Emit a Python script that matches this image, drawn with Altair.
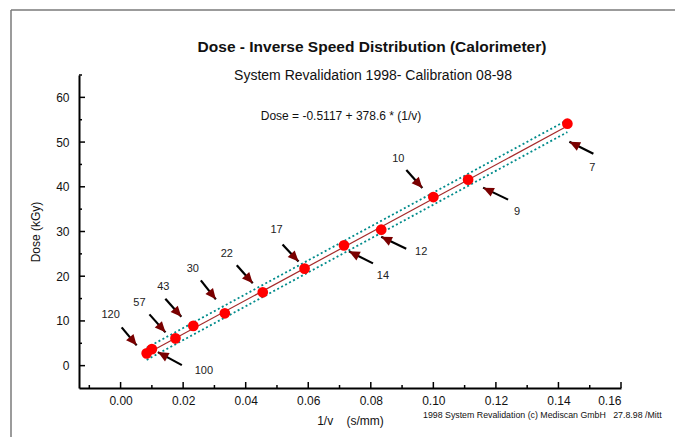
import math
import altair as alt
import pandas as pd

# Calibration runs: conveyor speed (label) and measured dose
speeds = [120, 100, 57, 43, 30, 22, 17, 14, 12, 10, 9, 7]
doses = [2.75, 3.7, 6.1, 8.9, 11.7, 16.4, 21.7, 26.9, 30.4, 37.7, 41.6, 54.1]

# Linear fit Dose = a + b * (1/v) and half-width of the dotted band
fit_intercept = -0.5117
fit_slope = 378.6
band_halfwidth = 1.35

# Axis ticks
x_major = [0.00, 0.02, 0.04, 0.06, 0.08, 0.10, 0.12, 0.14, 0.16]
x_minor = [-0.01, 0.01, 0.03, 0.05, 0.07, 0.09, 0.11, 0.13, 0.15]
y_major = [0, 10, 20, 30, 40, 50, 60]
y_minor = [5, 15, 25, 35, 45, 55, 65]

title_text = "Dose - Inverse Speed Distribution (Calorimeter)"
subtitle_text = "System Revalidation 1998- Calibration 08-98"
equation_text = "Dose = -0.5117 + 378.6 * (1/v)"
footer_text = "1998 System Revalidation (c) Mediscan GmbH\u00a0\u00a0 27.8.98 /Mitt"
x_title = "1/v\u00a0\u00a0\u00a0\u00a0(s/mm)"
y_title = "Dose (kGy)"

# Callout layout per speed, in screen pixels relative to the point:
# (arrow tail), (arrow tip), (label centre)
callouts = {
    120: ((-25, -26), (-10, -8), (-36, -38)),
    100: ((30, 16), (6, 3), (52, 22)),
    57: ((-26, -24), (-10, -6), (-36, -35)),
    43: ((-28, -27), (-12, -9), (-30, -39)),
    30: ((-24, -33), (-9, -14), (-32, -44)),
    22: ((-26, -27), (-10, -9), (-36, -38)),
    17: ((-22, -24), (-6, -7), (-28, -39)),
    14: ((29, 18), (5, 6), (39, 31)),
    12: ((25, 19), (0, 7), (40, 22)),
    10: ((-27, -27), (-11, -9), (-35, -38)),
    9: ((40, 20), (15, 8), (49, 32)),
    7: ((26, 30), (2, 18), (25, 44)),
}

W, H = 542, 313
X_DOM = [-0.0133, 0.16]
Y_DOM = [-5, 65]
PAD = {"left": 79, "top": 75, "right": 54, "bottom": 49}
FONT = "Liberation Sans"

px_x = W / (X_DOM[1] - X_DOM[0])
px_y = H / (Y_DOM[1] - Y_DOM[0])

xs = alt.Scale(domain=X_DOM, nice=False, zero=False)
ys = alt.Scale(domain=Y_DOM, nice=False, zero=False)

# One shared axis definition per channel, reused by every layer
X_AXIS = alt.Axis(
    values=x_major, format=".2f", ticks=False, tickSize=0, grid=False,
    domainColor="black", domainWidth=2, labelFont=FONT, labelFontSize=12,
    labelColor="#111", labelPadding=7, title=x_title, titleFont=FONT,
    titleFontSize=12, titleFontWeight="normal", titleColor="#111", titlePadding=9)
Y_AXIS = alt.Axis(
    values=y_major, format="d", ticks=False, tickSize=0, grid=False,
    domainColor="black", domainWidth=2, labelFont=FONT, labelFontSize=12,
    labelColor="#111", labelPadding=10, title=y_title, titleFont=FONT,
    titleFontSize=12, titleFontWeight="normal", titleColor="#111", titlePadding=13)


def X(field):
    return alt.X(field, scale=xs, axis=X_AXIS)


def Y(field):
    return alt.Y(field, scale=ys, axis=Y_AXIS)


pts = pd.DataFrame({"speed": speeds, "inv": [1 / s for s in speeds], "dose": doses})

x_lo, x_hi = min(pts["inv"]), max(pts["inv"])
fit = pd.DataFrame({"inv": [x_lo, x_hi]})
fit["dose"] = fit_intercept + fit_slope * fit["inv"]
fit["upper"] = fit["dose"] + band_halfwidth
fit["lower"] = fit["dose"] - band_halfwidth

rows = []
for s, xv, yv in zip(pts["speed"], pts["inv"], pts["dose"]):
    (tx, ty), (hx, hy), (lx, ly) = callouts[s]
    ang = math.degrees(math.atan2(hx - tx, -(hy - ty))) % 360
    rows.append({
        "label": str(s),
        "x0": xv + tx / px_x, "y0": yv - ty / px_y,
        "x1": xv + hx / px_x, "y1": yv - hy / px_y,
        "lx": xv + lx / px_x, "ly": yv - ly / px_y,
        "ang": ang,
    })
arrows = pd.DataFrame(rows)

one = pd.DataFrame({"k": [0]})

frame_top = alt.Chart(one).mark_rule(color="#7a7a7a", strokeWidth=1.5).encode(
    x=alt.value(11 - PAD["left"]), x2=alt.value(675 - PAD["left"]),
    y=alt.value(10 - PAD["top"]))
frame_left = alt.Chart(one).mark_rule(color="#7a7a7a", strokeWidth=1.5).encode(
    x=alt.value(11 - PAD["left"]),
    y=alt.value(10 - PAD["top"]), y2=alt.value(437 - PAD["top"]))

fit_line = alt.Chart(fit).mark_line(color="#a52a2a", strokeWidth=1.2).encode(
    x=X("inv:Q"), y=Y("dose:Q"))
upper_line = alt.Chart(fit).mark_line(color="#008b8b", strokeWidth=1.8, strokeDash=[2, 2.5]).encode(
    x=X("inv:Q"), y=Y("upper:Q"))
lower_line = alt.Chart(fit).mark_line(color="#008b8b", strokeWidth=1.8, strokeDash=[2, 2.5]).encode(
    x=X("inv:Q"), y=Y("lower:Q"))


# Inward tick marks on both axes
def yticks(vals, length):
    return alt.Chart(pd.DataFrame({"v": vals})).mark_rule(color="black", strokeWidth=1.5).encode(
        y=Y("v:Q"), x=alt.value(0), x2=alt.value(length))


def xticks(vals, length):
    return alt.Chart(pd.DataFrame({"v": vals})).mark_rule(color="black", strokeWidth=1.5).encode(
        x=X("v:Q"), y=alt.value(H), y2=alt.value(H - length))


points = alt.Chart(pts).mark_circle(size=115, color="#ff0000", opacity=1).encode(
    x=X("inv:Q"), y=Y("dose:Q"))

shafts = alt.Chart(arrows).mark_rule(color="black", strokeWidth=2.2).encode(
    x=X("x0:Q"), y=Y("y0:Q"), x2="x1:Q", y2="y1:Q")
heads = alt.Chart(arrows).mark_point(
    shape="M0,0L-0.45,1L0.45,1Z", filled=True, size=460, color="#7a0000", opacity=1,
    strokeWidth=0).encode(
    x=X("x1:Q"), y=Y("y1:Q"), angle=alt.Angle("ang:Q", scale=None))
labels = alt.Chart(arrows).mark_text(font=FONT, fontSize=11, color="#222").encode(
    x=X("lx:Q"), y=Y("ly:Q"), text="label:N")


def caption(txt, x, y, size, weight="normal", align="center"):
    return alt.Chart(pd.DataFrame({"t": [txt]})).mark_text(
        font=FONT, fontSize=size, fontWeight=weight, align=align, baseline="middle",
        color="#111").encode(
        text="t:N", x=alt.value(x - PAD["left"]), y=alt.value(y - PAD["top"]))


chart = alt.layer(
    frame_top, frame_left,
    upper_line, lower_line, fit_line,
    yticks(y_major, 6), yticks(y_minor, 3),
    xticks(x_major, 6), xticks(x_minor, 3),
    shafts, heads, points, labels,
    caption(title_text, 372, 47, 15.5, "bold"),
    caption(subtitle_text, 373, 76, 14),
    caption(equation_text, 341, 116, 12),
    caption(footer_text, 423, 415, 8.8, align="left"),
).properties(
    width=W, height=H, padding=PAD, background="white",
    autosize=alt.AutoSizeParams(type="none"),
).configure_view(strokeWidth=0)

chart.save("out.html", embed_options={"renderer": "svg", "actions": False})
